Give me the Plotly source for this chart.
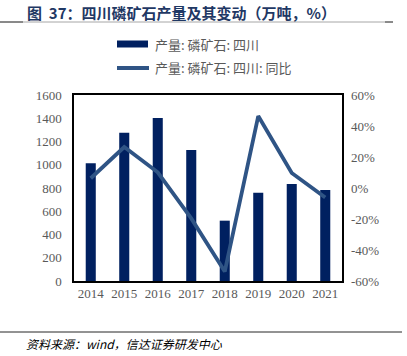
import plotly.graph_objects as go

years = ["2014", "2015", "2016", "2017", "2018", "2019", "2020", "2021"]
output = [1012, 1276, 1402, 1127, 519, 760, 834, 783]
yoy = [6.3, 26.4, 10.1, -19.6, -53.9, 46.4, 9.7, -6.1]

left_ticks = [0, 200, 400, 600, 800, 1000, 1200, 1400, 1600]
right_ticks = [-60, -40, -20, 0, 20, 40, 60]

name_bar = "产量: 磷矿石: 四川"
name_line = "产量: 磷矿石: 四川: 同比"

BAR = "#002060"
LINE = "#2F5485"
TICK = "#595959"
SERIF = "Liberation Serif, Times New Roman, serif"
CJK = "Noto Sans CJK SC, sans-serif"

fig = go.Figure()
fig.add_trace(go.Bar(x=years, y=output, name=name_bar, marker_color=BAR,
                     marker_line_width=0, yaxis="y", showlegend=False))
fig.add_trace(go.Scatter(x=years, y=yoy, name=name_line, mode="lines",
                         line=dict(color=LINE, width=3.8), yaxis="y2", showlegend=False))

fig.update_layout(
    width=407, height=356,
    margin=dict(l=74, r=65, t=95, b=75),
    paper_bgcolor="white", plot_bgcolor="white",
    bargap=0.7,
    xaxis=dict(showline=True, linecolor="black", linewidth=1.5, mirror=True,
               ticks="", tickfont=dict(family=SERIF, size=13, color=TICK),
               showgrid=False),
    yaxis=dict(range=[0, 1600], tickvals=left_ticks, showgrid=False,
               showline=True, linecolor="black", linewidth=1.5, mirror=True,
               ticks="", tickfont=dict(family=SERIF, size=13, color=TICK),
               ticklabelstandoff=8, zeroline=False),
    yaxis2=dict(range=[-60, 60], tickvals=right_ticks,
                ticktext=[f"{v}%" for v in right_ticks],
                overlaying="y", side="right", showgrid=False, zeroline=False,
                ticks="", tickfont=dict(family=SERIF, size=13, color=TICK),
                ticklabelstandoff=8),
)


def px_x(x):
    return (x - 74) / 268


def px_y(y):
    return (281 - y) / 186


# title
fig.add_annotation(text="<b>图  37：四川磷矿石产量及其变动（万吨，%）</b>",
                   xref="paper", yref="paper", x=px_x(25), y=px_y(13),
                   xanchor="left", yanchor="middle", showarrow=False,
                   font=dict(family=CJK, size=15, color="#1F3864"))
# title rule
fig.add_shape(type="line", xref="paper", yref="paper", x0=px_x(0), x1=px_x(393),
              y0=px_y(22), y1=px_y(22), line=dict(color="#A6A6A6", width=1))
fig.add_shape(type="line", xref="paper", yref="paper", x0=px_x(0), x1=px_x(23),
              y0=px_y(22), y1=px_y(22), line=dict(color="#404040", width=1))
fig.add_shape(type="line", xref="paper", yref="paper", x0=px_x(385), x1=px_x(393),
              y0=px_y(22), y1=px_y(22), line=dict(color="#404040", width=1))

# legend
fig.add_shape(type="line", xref="paper", yref="paper", x0=px_x(117), x1=px_x(148),
              y0=px_y(44), y1=px_y(44), line=dict(color=BAR, width=7))
fig.add_shape(type="line", xref="paper", yref="paper", x0=px_x(117), x1=px_x(149),
              y0=px_y(68), y1=px_y(68), line=dict(color=LINE, width=4))
fig.add_annotation(text=name_bar, xref="paper", yref="paper", x=px_x(153), y=px_y(44),
                   xanchor="left", yanchor="middle", showarrow=False,
                   font=dict(family=CJK, size=13, color=TICK))
fig.add_annotation(text=name_line, xref="paper", yref="paper", x=px_x(153), y=px_y(68),
                   xanchor="left", yanchor="middle", showarrow=False,
                   font=dict(family=CJK, size=13, color=TICK))

# bottom rule and source
fig.add_shape(type="line", xref="paper", yref="paper", x0=px_x(0), x1=px_x(402),
              y0=px_y(332), y1=px_y(332), line=dict(color="#262626", width=1))
fig.add_annotation(text="<i>资料来源：wind，信达证券研发中心</i>", xref="paper", yref="paper",
                   x=px_x(24), y=px_y(343), xanchor="left", yanchor="middle", showarrow=False,
                   font=dict(family=CJK, size=12, color="black"))

fig.write_html("out.html", config={"displayModeBar": False},
               post_script="document.body.style.margin='0';document.body.style.padding='0';")
